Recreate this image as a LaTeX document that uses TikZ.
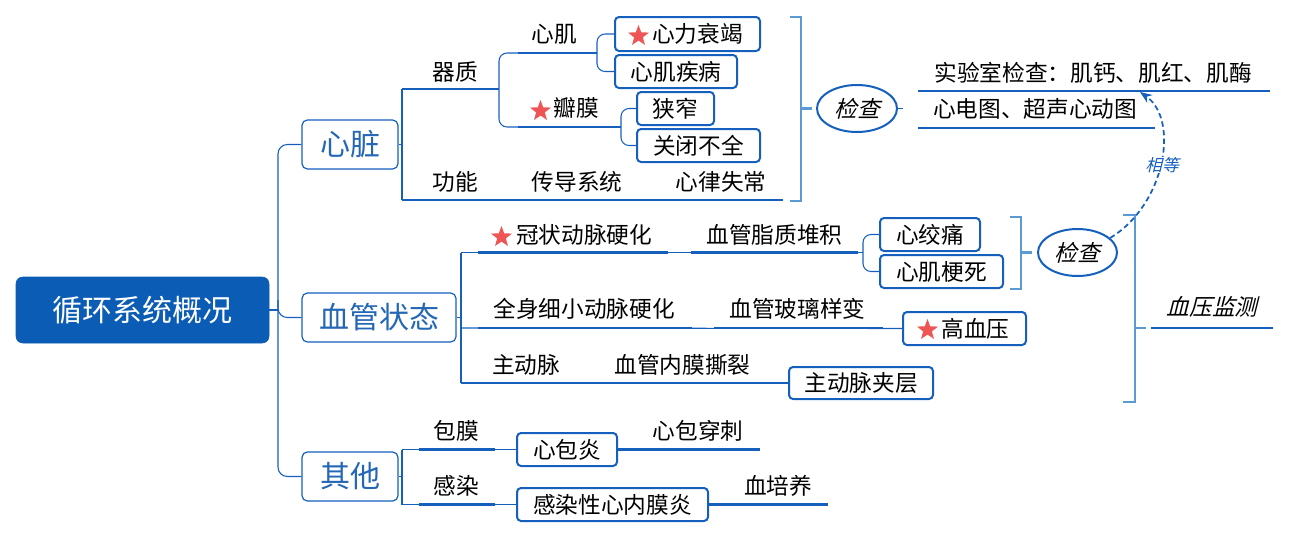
\documentclass[tikz,border=0pt]{standalone}
\usepackage{fontspec}
\setmainfont{Noto Sans CJK SC}
\newfontfamily\cjkit[FakeSlant=0.25]{Noto Sans CJK SC}
\usetikzlibrary{shapes.geometric,arrows.meta}
\newdimen\pxu \pxu=0.75pt
\definecolor{rootblue}{HTML}{0B5CB5}
\definecolor{lineblue}{HTML}{1560BD}
\definecolor{brkblue}{HTML}{5B9BD5}
\definecolor{starred}{HTML}{EE5555}
\definecolor{txtblue}{HTML}{2467B5}
\tikzset{
 conn/.style={draw=lineblue, line width=0.8pt},
 uline/.style={draw=lineblue, line width=1.7pt},
 brk/.style={draw=brkblue, line width=1.6pt},
 rootbox/.style={fill=rootblue, draw=rootblue, rounded corners=5pt, text=white, font=\fontsize{22.5}{26}\selectfont, inner sep=0pt},
 mainbox/.style={draw=lineblue, line width=0.9pt, rounded corners=4pt, fill=white, text=txtblue, font=\fontsize{22.5}{26}\selectfont, inner sep=0pt},
 leafbox/.style={draw=lineblue, line width=1.5pt, rounded corners=3pt, fill=white, inner sep=0pt, font=\fontsize{17}{20}\selectfont},
 lbl/.style={font=\fontsize{17}{20}\selectfont, inner sep=0pt, text=black},
 itl/.style={font=\cjkit\fontsize{17}{20}\selectfont, inner sep=0pt, text=black},
 ell/.style={ellipse, draw=lineblue, line width=1.5pt, inner sep=0pt, fill=white},
 redstar/.style={star, star points=5, star point ratio=2.4, fill=starred, draw=none, minimum size=22\pxu, inner sep=0pt},
}
\begin{document}
\begin{tikzpicture}[x=0.75pt,y=-0.75pt]
\useasboundingbox (0,0) rectangle (1291,539);

% ---------- main nodes
\node[rootbox, minimum width=253\pxu, minimum height=66\pxu] (root) at (142.5,310) {循环系统概况};
\node[mainbox, minimum width=96\pxu, minimum height=49\pxu] (xinzang) at (350,144.5) {心脏};
\node[mainbox, minimum width=154\pxu, minimum height=49\pxu] (xueguan) at (379,317.5) {血管状态};
\node[mainbox, minimum width=96\pxu, minimum height=49\pxu] (qita) at (350,476.5) {其他};

% trunk
\coordinate (t1) at (278,310);
\coordinate (t2) at (278,300);
\draw[conn] (root.east) -- (t1);
\draw[conn, rounded corners=7pt] (xinzang.west) -| (t1) |- (qita.west);
\draw[conn, rounded corners=7pt] (t2) |- (xueguan.west);

% ---------- heart subtree
\coordinate (h0) at (402,144.5);
\coordinate (hA) at (402,89);
\coordinate (hB) at (402,200);
\coordinate (qzR) at (499,89);
\draw[conn] (xinzang.east) -- (h0);
\draw[conn] (hA) -- (hB);
\draw[conn] (hA) -- (qzR);
\coordinate (qz1) at (419,89); \coordinate (qz2) at (494,89);
\draw[uline] (qz1) -- (qz2);
\node[lbl] (tqz) at (455,72) {器质};

\coordinate (xj0) at (518,53); \coordinate (xj1) at (593,53); \coordinate (xj2) at (597,53);
\coordinate (bm0) at (518,127); \coordinate (bm1) at (617,127); \coordinate (bm2) at (621,127);
\draw[conn, rounded corners=6pt] (xj0) -| (qzR) |- (bm0);
\draw[uline] (xj0) -- (xj1);
\draw[conn] (xj1) -- (xj2);
\node[lbl] (txj) at (554,34) {心肌};
\draw[uline] (bm0) -- (bm1);
\draw[conn] (bm1) -- (bm2);
\node[redstar] (s2) at (540.5,111) {};
\node[lbl] (tbm) at (576.5,108) {瓣膜};

\node[leafbox, minimum width=145\pxu, minimum height=34\pxu] (xlsj) at (687.5,34) {};
\node[redstar] (s1) at (638.5,36) {};
\node[lbl] (txlsj) at (697.5,34) {心力衰竭};
\node[leafbox, minimum width=122\pxu, minimum height=33\pxu] (xjjb) at (676,71.5) {心肌疾病};
\draw[conn, rounded corners=6pt] (xlsj.west) -| (xj2) |- (xjjb.west);
\node[leafbox, minimum width=77\pxu, minimum height=33\pxu] (xzh) at (675.5,108.5) {狭窄};
\node[leafbox, minimum width=123\pxu, minimum height=33\pxu] (gbbq) at (698.5,145.5) {关闭不全};
\draw[conn, rounded corners=6pt] (xzh.west) -| (bm2) |- (gbbq.west);

\coordinate (gnE) at (783,200);
\draw[conn] (hB) -- (gnE);
\draw[uline] (419,200) -- (494,200);
\draw[uline] (518,200) -- (638,200);
\draw[uline] (662,200) -- (gnE);
\node[lbl] (tgn) at (455,182) {功能};
\node[lbl] (tcd) at (577,182) {传导系统};
\node[lbl] (txl) at (721,182) {心律失常};

% bracket + check 1
\coordinate (b1a) at (790,17); \coordinate (b1b) at (800.7,201); \coordinate (b1c) at (790,201);
\coordinate (b1m) at (800.7,108.5); \coordinate (b1t) at (812,108.5);
\draw[brk] (b1a) -| (b1b) -- (b1c);
\draw[brk] (b1m) -- (b1t);
\node[ell, minimum width=80\pxu, minimum height=47\pxu, itl] (jc1) at (857,108.5) {检查};
\coordinate (jc1t) at (903,108.5);
\draw[conn] (jc1.east) -- (jc1t);
\coordinate (sy1) at (918,90.7); \coordinate (sy2) at (1270,90.7);
\coordinate (xd1) at (918,127.7); \coordinate (xd2) at (1155,127.7);
\draw[uline] (sy1) -- (sy2);
\draw[uline] (xd1) -- (xd2);
\node[lbl] (tsy) at (1093,72.5) {实验室检查：肌钙、肌红、肌酶};
\node[lbl] (txdt) at (1035,109) {心电图、超声心动图};

% ---------- vessel subtree
\coordinate (v0) at (461,317.5);
\coordinate (vA) at (461,252.5);
\coordinate (vB) at (461,328);
\coordinate (vC) at (461,383);
\draw[conn] (xueguan.east) -- (v0);
\draw[conn] (vA) -- (vC);

\coordinate (r1e) at (863,252.5);
\draw[conn] (vA) -- (r1e);
\draw[uline] (478,252.5) -- (668,252.5);
\draw[uline] (691,252.5) -- (858,252.5);
\node[redstar] (s3) at (501.5,237) {};
\node[lbl] (tgz) at (584,235) {冠状动脉硬化};
\node[lbl] (tzz) at (774.5,235) {血管脂质堆积};
\node[leafbox, minimum width=100\pxu, minimum height=33\pxu] (xjt) at (930,234.5) {心绞痛};
\node[leafbox, minimum width=123\pxu, minimum height=33\pxu] (xjgs) at (941.5,271.5) {心肌梗死};
\draw[conn, rounded corners=6pt] (xjt.west) -| (r1e) |- (xjgs.west);

\coordinate (b2a) at (1010,217); \coordinate (b2b) at (1020.7,289); \coordinate (b2c) at (1010,289);
\coordinate (b2m) at (1020.7,252.5); \coordinate (b2t) at (1032,252.5);
\draw[brk] (b2a) -| (b2b) -- (b2c);
\draw[brk] (b2m) -- (b2t);
\node[ell, minimum width=79\pxu, minimum height=47\pxu, itl] (jc2) at (1077.5,252.5) {检查};

\node[leafbox, minimum width=123\pxu, minimum height=33\pxu] (gxy) at (964.5,328.5) {};
\node[redstar] (s4) at (927.5,330) {};
\node[lbl] (tgxy) at (975.5,328.5) {高血压};
\draw[conn] (vB) -- (gxy.west);
\draw[uline] (478,328) -- (692,328);
\draw[uline] (714,328) -- (883,328);
\node[lbl] (tqs) at (584,309) {全身细小动脉硬化};
\node[lbl] (tbl) at (797.5,309) {血管玻璃样变};

\node[leafbox, minimum width=144\pxu, minimum height=32\pxu] (zdjc) at (861,383) {主动脉夹层};
\draw[conn] (vC) -- (zdjc.west);
\draw[uline] (478,383) -- (577,383);
\draw[uline] (599,383) -- (767,383);
\node[lbl] (tzdm) at (526,365) {主动脉};
\node[lbl] (tnm) at (682.5,365) {血管内膜撕裂};

\coordinate (b3a) at (1123,215); \coordinate (b3b) at (1135,402); \coordinate (b3c) at (1123,402);
\coordinate (b3m) at (1135,328); \coordinate (b3t) at (1146,328);
\draw[brk] (b3a) -| (b3b) -- (b3c);
\draw[brk] (b3m) -- (b3t);
\coordinate (xy1) at (1151,328); \coordinate (xy2) at (1273,328);
\draw[uline] (xy1) -- (xy2);
\node[itl] (txyjc) at (1212,307) {血压监测};

% dashed relation
\coordinate (arrtip) at (1140,92);
\draw[lineblue, line width=1.3pt, dash pattern=on 4pt off 2.5pt, -{Stealth[length=9pt,width=7pt]}] (jc2.24) .. controls (1165,205) and (1180,120) .. (arrtip);
\node[font=\cjkit\fontsize{12.5}{14}\selectfont, text=lineblue, fill=white, inner sep=0.5pt] (xdeng) at (1162,165) {相等};

% ---------- others subtree
\coordinate (q0) at (402,476.5);
\coordinate (qA) at (402,449.5);
\coordinate (qB) at (402,504.5);
\draw[conn] (qita.east) -- (q0);
\draw[conn] (qA) -- (qB);
\node[leafbox, minimum width=100\pxu, minimum height=33\pxu] (xby) at (567,449.5) {心包炎};
\node[leafbox, minimum width=191\pxu, minimum height=33\pxu] (grx) at (612.5,504.5) {感染性心内膜炎};
\draw[conn] (qA) -- (xby.west);
\draw[conn] (qB) -- (grx.west);
\draw[uline] (419,449.5) -- (495,449.5);
\draw[uline] (419,504.5) -- (495,504.5);
\node[lbl] (tbmo) at (456,431) {包膜};
\node[lbl] (tgr) at (456,486) {感染};
\coordinate (cc) at (760,449.5);
\coordinate (xpy) at (828,504.5);
\draw[uline] (xby.east) -- (cc);
\draw[uline] (grx.east) -- (xpy);
\node[lbl] (txbcc) at (698,431) {心包穿刺};
\node[lbl] (txpy) at (778,486) {血培养};
\end{tikzpicture}
\end{document}
